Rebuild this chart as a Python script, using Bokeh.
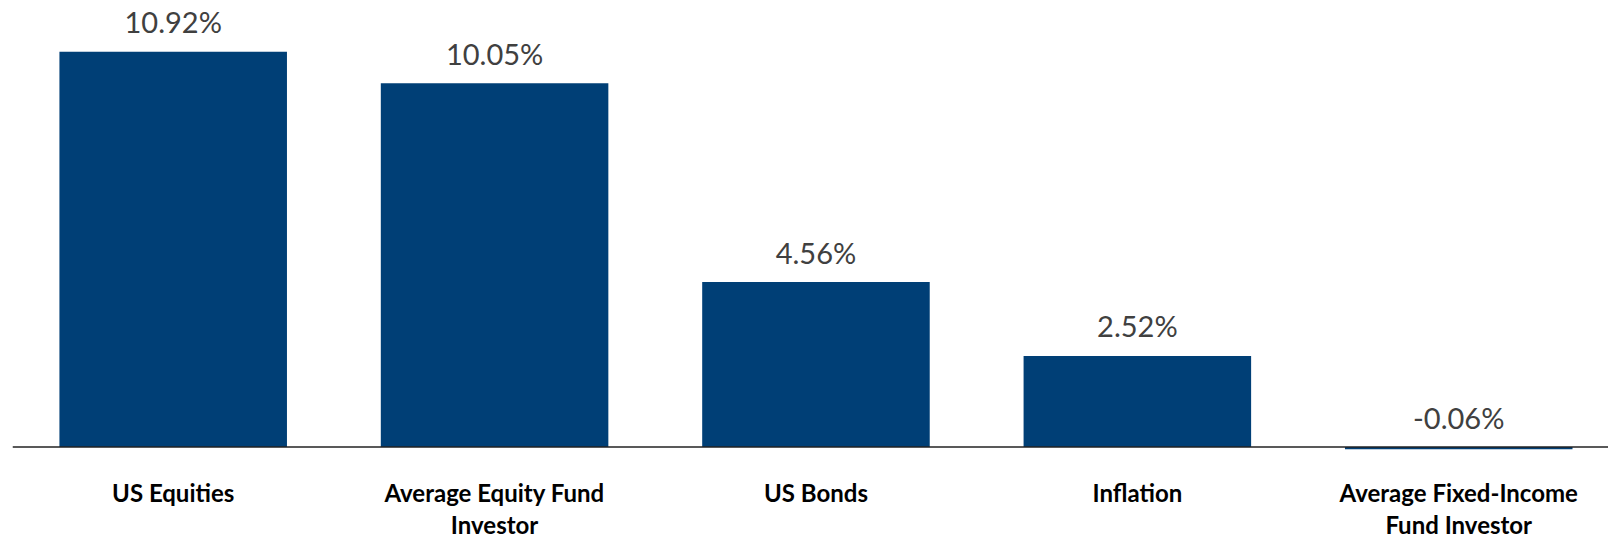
from bokeh.plotting import figure
from bokeh.models import ColumnDataSource, Range1d, FixedTicker, Span
from bokeh.embed import file_html
from bokeh.resources import INLINE
from bokeh.core.properties import value

categories = ["US Equities", "Average Equity Fund\nInvestor", "US Bonds", "Inflation",
              "Average Fixed-Income\nFund Investor"]
returns = [10.92, 10.05, 4.56, 2.52, -0.06]
value_labels = ["10.92%", "10.05%", "4.56%", "2.52%", "-0.06%"]

xs = list(range(len(categories)))
label_y = [max(v, 0) for v in returns]

src = ColumnDataSource(dict(x=xs, top=returns, ly=label_y, lab=value_labels))

p = figure(width=1608, height=537, frame_height=452,
           x_range=Range1d(-0.5, 4.466), y_range=Range1d(-0.149, 12.337),
           output_backend="svg", toolbar_location=None,
           min_border_left=12, min_border_right=0, min_border_top=0)

p.vbar(x="x", top="top", bottom=0, width=0.708, source=src,
       fill_color="#003F76", line_color=None)

p.text(x="x", y="ly", text="lab", source=src, text_align="center",
       text_baseline="middle", y_offset=-30, text_font=value("Lato"),
       text_font_size="29px", text_color="#404040")

p.add_layout(Span(location=0, dimension="width", line_color="#222222", line_width=1.5))

p.xaxis.ticker = FixedTicker(ticks=xs)
p.xaxis.major_label_overrides = {i: c for i, c in enumerate(categories)}
p.xaxis.axis_line_color = None
p.xaxis.major_tick_line_color = None
p.xaxis.minor_tick_line_color = None
p.xaxis.major_label_text_font = "Lato"
p.xaxis.major_label_text_font_style = "bold"
p.xaxis.major_label_text_font_size = "24px"
p.xaxis.major_label_text_color = "#000000"
p.xaxis.major_label_text_line_height = 1.12
p.xaxis.major_label_standoff = 19
p.yaxis.visible = False
p.xgrid.visible = False
p.ygrid.visible = False
p.outline_line_color = None
p.background_fill_color = "white"
p.border_fill_color = "white"

open("out.html", "w").write(file_html(p, INLINE))
